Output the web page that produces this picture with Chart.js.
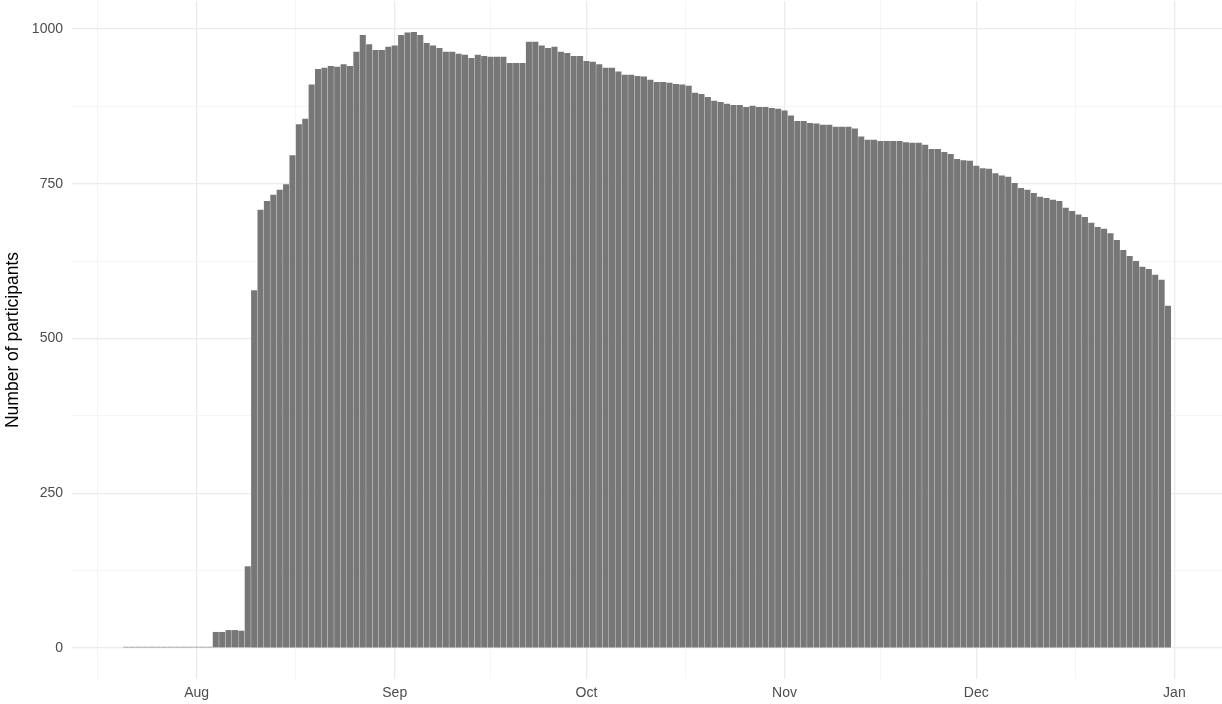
<!DOCTYPE html>
<html>
<head>
<meta charset="utf-8">
<script src="https://cdn.jsdelivr.net/npm/chart.js@4.4.1/dist/chart.umd.min.js"></script>
<style>
  html, body { margin: 0; padding: 0; background: #fff; }
  #wrap { width: 1222px; height: 704px; }
</style>
</head>
<body>
<div id="wrap"><canvas id="participantsChart"></canvas></div>
<script>
// days are counted from 1 Aug (Aug 1 = 0), first bar is Jul 21
const firstDay = -11;
const participants = [
    2, 2, 2, 2, 2, 2, 2, 2, 2, 2, 2, 2, 2, 2,
    26, 26, 29, 29, 28,
    132, 578, 708, 722, 732, 740, 749, 796, 846, 855,
    910, 935, 937, 940, 939, 943, 940, 963, 990, 975,
    966, 966, 971, 973, 990, 994, 995, 990, 977, 973,
    969, 963, 963, 960, 958, 953, 958, 956, 955, 955,
    955, 945, 945, 945, 979, 979, 973, 969, 971, 963,
    961, 956, 956, 948, 947, 943,
    937, 937, 931, 926, 926, 924, 923, 918, 914, 914,
    913, 911, 910, 908, 897, 895, 890, 884, 882, 879,
    877, 877, 874, 876, 874, 874, 872, 871, 868, 860,
    851,
    851, 848, 847, 845, 845, 842, 842, 842, 839, 826,
    821, 821, 819, 819, 819, 819, 817, 816, 816, 813,
    806, 806, 801, 798, 790, 788, 787, 779, 775, 774,
    767, 763,
    761, 751, 743, 740, 735, 729, 727, 724, 722, 711,
    706, 700, 696, 687, 680, 677, 670, 659, 643, 633,
    625, 616, 612, 603, 595, 553
];
const monthLabels = ['Aug', 'Sep', 'Oct', 'Nov', 'Dec', 'Jan'];
const monthDays = [0, 31, 61, 92, 122, 153];
const minorDays = [-15.5, 15.5, 46, 76.5, 107, 137.5];
const yTicks = [0, 250, 500, 750, 1000];
const yMinorTicks = [125, 375, 625, 875];

Chart.defaults.font.family = "'Liberation Sans', Arial, sans-serif";

const ctx = document.getElementById('participantsChart').getContext('2d');
const points = participants.map((v, i) => ({ x: firstDay + i, y: v }));

new Chart(ctx, {
    type: 'bar',
    data: {
        datasets: [{
            data: points,
            backgroundColor: '#777777',
            borderWidth: 0,
            barPercentage: 0.95,
            categoryPercentage: 1
        }]
    },
    options: {
        responsive: true,
        maintainAspectRatio: false,
        animation: false,
        layout: { padding: { top: 1, right: 0, bottom: 0, left: 0 } },
        plugins: {
            legend: { display: false },
            tooltip: { enabled: false }
        },
        scales: {
            x: {
                type: 'linear',
                min: -19.5,
                max: 160.45,
                offset: false,
                border: { display: false },
                grid: {
                    offset: false,
                    drawTicks: false,
                    color: c => minorDays.includes(c.tick.value) ? '#f3f3f3' : '#ebebeb',
                    lineWidth: c => minorDays.includes(c.tick.value) ? 0.8 : 1.3
                },
                ticks: {
                    color: '#4d4d4d',
                    font: { size: 14 },
                    padding: 6,
                    maxRotation: 0,
                    autoSkip: false,
                    callback: v => {
                        const idx = monthDays.indexOf(v);
                        return idx >= 0 ? monthLabels[idx] : '';
                    }
                },
                afterBuildTicks: scale => {
                    scale.ticks = monthDays.concat(minorDays)
                        .sort((a, b) => a - b)
                        .map(v => ({ value: v }));
                },
                afterFit: scale => {
                    scale.height = 25;
                    scale.paddingLeft = 0;
                    scale.paddingRight = 0;
                }
            },
            y: {
                min: -50,
                max: 1045,
                border: { display: false },
                grid: {
                    drawTicks: false,
                    color: c => yMinorTicks.includes(c.tick.value) ? '#f3f3f3' : '#ebebeb',
                    lineWidth: c => yMinorTicks.includes(c.tick.value) ? 0.8 : 1.3
                },
                ticks: {
                    color: '#4d4d4d',
                    font: { size: 14 },
                    padding: 9,
                    callback: v => yTicks.includes(v) ? String(v) : ''
                },
                afterBuildTicks: scale => {
                    scale.ticks = yTicks.concat(yMinorTicks)
                        .sort((a, b) => a - b)
                        .map(v => ({ value: v }));
                },
                title: {
                    display: true,
                    text: 'Number of participants',
                    color: '#000000',
                    font: { size: 17.5 },
                    padding: { top: 3, bottom: 0 }
                },
                afterFit: scale => {
                    scale.width = 72;
                    scale.paddingTop = 0;
                    scale.paddingBottom = 0;
                }
            }
        }
    }
});
</script>
</body>
</html>
